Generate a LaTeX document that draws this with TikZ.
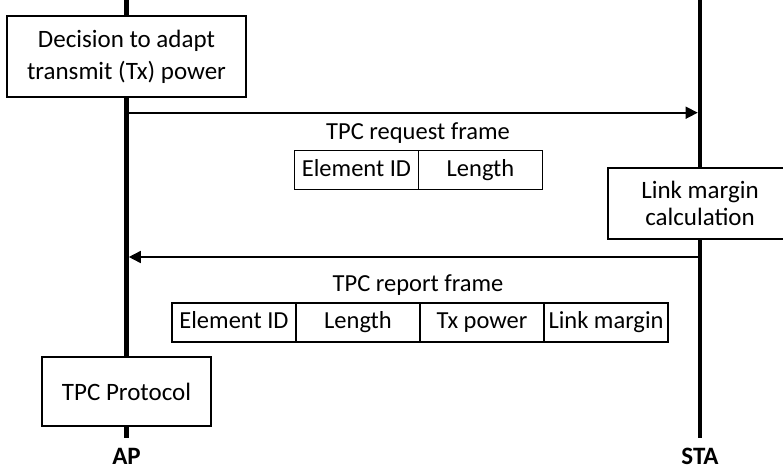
\documentclass[tikz,border=0pt]{standalone}
\usepackage{fontspec}
\setmainfont{Carlito}
\usetikzlibrary{positioning, arrows.meta}

\begin{document}
\begin{tikzpicture}[x=1pt, y=-1pt, >={Triangle[length=12pt, width=12pt]},
	caja/.style={draw, fill=white, line width=1.6pt, align=center, inner sep=0pt, outer sep=0pt, font=\fontsize{25}{32}\selectfont},
	campo/.style={draw, fill=white, line width=1.6pt, minimum width=124pt, minimum height=39pt, inner sep=0pt, outer sep=0pt,
		text height=17pt, text depth=5pt, font=\fontsize{24.5}{28}\selectfont},
	titulo/.style={font=\fontsize{24.5}{28}\selectfont},
	vida/.style={line width=4.6pt},
	mensaje/.style={->, line width=1.6pt}]
	
	% Parámetros del dibujo (en px)
	\def\xAP{126.5}    % Línea de vida del AP
	\def\xSTA{700}     % Línea de vida de la STA
	\def\yFin{438}     % Final de las líneas de vida
	\def\yReq{112.7}   % Altura del mensaje de petición
	\def\yRep{257}     % Altura del mensaje de informe
	
	% Marco de la figura
	\clip (0,0) rectangle (783,471);
	
	% --- 1. LÍNEAS DE VIDA ---
	\coordinate (APtop) at (\xAP, 0);
	\coordinate (APbot) at (\xAP, \yFin);
	\coordinate (STAtop) at (\xSTA, 0);
	\coordinate (STAbot) at (\xSTA, \yFin);
	\draw[vida] (APtop) -- (APbot);
	\draw[vida] (STAtop) -- (STAbot);
	
	\node[font=\fontsize{25}{30}\selectfont\bfseries] (AP) at (\xAP, 456) {AP};
	\node[font=\fontsize{25}{30}\selectfont\bfseries] (STA) at (\xSTA, 456) {STA};
	
	% --- 2. CAJAS DE PROCESO ---
	\node[caja, minimum width=239pt, minimum height=81pt] (Decision) at (\xAP, 56.5)
		{Decision to adapt\\transmit (Tx) power};
	\node[caja, minimum width=184pt, minimum height=71pt, font=\fontsize{25}{27}\selectfont] (Margen) at (\xSTA, 203.5)
		{Link margin\\calculation};
	\node[caja, minimum width=169pt, minimum height=69pt] (Protocolo) at (\xAP, 391.5) {TPC Protocol};
	
	% --- 3. MENSAJES ---
	\coordinate (APreq) at (\xAP, \yReq);
	\coordinate (STAreq) at (\xSTA, \yReq);
	\coordinate (APrep) at (\xAP, \yRep);
	\coordinate (STArep) at (\xSTA, \yRep);
	\draw[mensaje, shorten <=2.3pt, shorten >=2.3pt] (APreq) -- (STAreq);
	\draw[mensaje, shorten <=2.3pt, shorten >=2.3pt] (STArep) -- (APrep);
	
	% Trama de petición TPC
	\node[titulo] (ReqTitulo) at (418, 133) {TPC request frame};
	\node[campo] (ReqID) at (356.5, 170) {Element ID};
	\node[campo, right=0pt of ReqID] (ReqLen) {Length};
	
	% Trama de informe TPC
	\node[titulo] (RepTitulo) at (418, 285) {TPC report frame};
	\node[campo] (RepID) at (234, 322.5) {Element ID};
	\node[campo, right=0pt of RepID] (RepLen) {Length};
	\node[campo, right=0pt of RepLen] (RepPot) {Tx power};
	\node[campo, right=0pt of RepPot] (RepMargen) {Link margin};
	
\end{tikzpicture}
\end{document}
